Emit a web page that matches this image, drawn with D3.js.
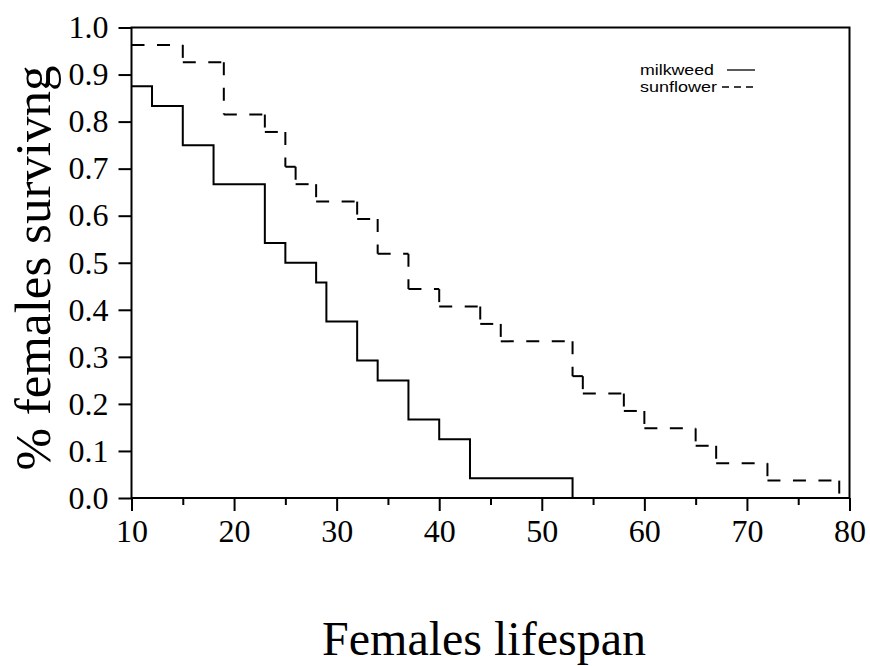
<!DOCTYPE html>
<html>
<head>
<meta charset="utf-8">
<script src="https://cdn.jsdelivr.net/npm/d3@7"></script>
<style>
  html, body { margin: 0; padding: 0; background: #fff; }
  svg { display: block; }
</style>
</head>
<body>
<svg id="chart" width="870" height="666"></svg>
<script>
// Survival of females (Kaplan–Meier style steps) by host plant
const milkweedDays     = [10, 12, 15, 18, 23, 25, 28, 29, 32, 34, 37, 40, 43, 53];
const milkweedSurvival = [0.875, 0.833, 0.75, 0.667, 0.542, 0.5, 0.458, 0.375, 0.292, 0.25, 0.167, 0.125, 0.042, 0];

const sunflowerDays     = [10, 15, 19, 23, 25, 26, 28, 32, 34, 37, 40, 44, 46, 53, 54, 58, 60, 65, 67, 72, 79];
const sunflowerSurvival = [0.963, 0.926, 0.815, 0.778, 0.704, 0.667, 0.630, 0.593, 0.519, 0.444, 0.407, 0.370, 0.333, 0.259, 0.222, 0.185, 0.148, 0.111, 0.074, 0.037, 0];

const xTicks      = [10, 20, 30, 40, 50, 60, 70, 80];
const xMinorTicks = [15, 25, 35, 45, 55, 65, 75];
const yTicks      = [0, 0.1, 0.2, 0.3, 0.4, 0.5, 0.6, 0.7, 0.8, 0.9, 1.0];

const legendLabels = ["milkweed", "sunflower"];

const serif = '"Liberation Serif", "Times New Roman", Times, serif';
const sans  = '"Liberation Sans", Arial, Helvetica, sans-serif';

const svg = d3.select("#chart");

const x = d3.scaleLinear().domain([10, 80]).range([131.5, 849.5]);
const y = d3.scaleLinear().domain([0, 1]).range([498, 27.5]);

// plot frame
svg.append("rect")
  .attr("x", x(10)).attr("y", y(1))
  .attr("width", x(80) - x(10)).attr("height", y(0) - y(1))
  .attr("fill", "none").attr("stroke", "#000").attr("stroke-width", 2);

// x axis: major ticks with labels, then minor ticks
const gx = svg.append("g")
  .attr("transform", `translate(0,${y(0)})`)
  .call(d3.axisBottom(x).tickValues(xTicks).tickSize(13).tickPadding(8).tickFormat(d3.format("d")));
gx.select(".domain").remove();
gx.selectAll(".tick line").attr("stroke", "#000").attr("stroke-width", 2);
gx.selectAll(".tick text")
  .attr("font-family", serif).attr("font-size", 32).attr("fill", "#000");

const gxMinor = svg.append("g")
  .attr("transform", `translate(0,${y(0)})`)
  .call(d3.axisBottom(x).tickValues(xMinorTicks).tickSize(7).tickFormat(""));
gxMinor.select(".domain").remove();
gxMinor.selectAll(".tick line").attr("stroke", "#000").attr("stroke-width", 2);

// y axis
const gy = svg.append("g")
  .attr("transform", `translate(${x(10)},0)`)
  .call(d3.axisLeft(y).tickValues(yTicks).tickSize(13).tickPadding(10).tickFormat(d3.format(".1f")));
gy.select(".domain").remove();
gy.selectAll(".tick line").attr("stroke", "#000").attr("stroke-width", 2);
gy.selectAll(".tick text")
  .attr("font-family", serif).attr("font-size", 32).attr("fill", "#000");

// milkweed: solid step curve
const milkweed = milkweedDays.map((d, i) => [d, milkweedSurvival[i]]);
svg.append("path")
  .datum(milkweed)
  .attr("d", d3.line().x(d => x(d[0])).y(d => y(d[1])).curve(d3.curveStepAfter))
  .attr("fill", "none").attr("stroke", "#000").attr("stroke-width", 2);

// sunflower: dashed steps, each run drawn as its own segment
const sunSegments = [];
for (let i = 0; i < sunflowerDays.length - 1; i++) {
  sunSegments.push([sunflowerDays[i], sunflowerSurvival[i], sunflowerDays[i + 1], sunflowerSurvival[i]]);
  sunSegments.push([sunflowerDays[i + 1], sunflowerSurvival[i], sunflowerDays[i + 1], sunflowerSurvival[i + 1]]);
}
svg.append("g").selectAll("line")
  .data(sunSegments)
  .join("line")
  .attr("x1", d => x(d[0])).attr("y1", d => y(d[1]))
  .attr("x2", d => x(d[2])).attr("y2", d => y(d[3]))
  .attr("stroke", "#000").attr("stroke-width", 2)
  .attr("stroke-dasharray", "13,12.5");

// legend
const legend = svg.append("g");
legend.append("text")
  .attr("x", 640).attr("y", 75)
  .attr("font-family", sans).attr("font-size", 15)
  .attr("textLength", 74).attr("lengthAdjust", "spacingAndGlyphs")
  .text(legendLabels[0]);
legend.append("line")
  .attr("x1", 727).attr("x2", 755).attr("y1", 70).attr("y2", 70)
  .attr("stroke", "#000").attr("stroke-width", 1.3);
legend.append("text")
  .attr("x", 640).attr("y", 92)
  .attr("font-family", sans).attr("font-size", 15)
  .attr("textLength", 77).attr("lengthAdjust", "spacingAndGlyphs")
  .text(legendLabels[1]);
legend.append("line")
  .attr("x1", 722).attr("x2", 753).attr("y1", 87).attr("y2", 87)
  .attr("stroke", "#000").attr("stroke-width", 1.3)
  .attr("stroke-dasharray", "7,5");

// axis titles
svg.append("text")
  .attr("x", 484).attr("y", 655)
  .attr("text-anchor", "middle")
  .attr("font-family", serif).attr("font-size", 48).attr("fill", "#000")
  .text("Females lifespan");

svg.append("text")
  .attr("transform", "translate(50,268) rotate(-90)")
  .attr("text-anchor", "middle")
  .attr("font-family", serif).attr("font-size", 51).attr("fill", "#000")
  .text("% females survivng");
</script>
</body>
</html>
